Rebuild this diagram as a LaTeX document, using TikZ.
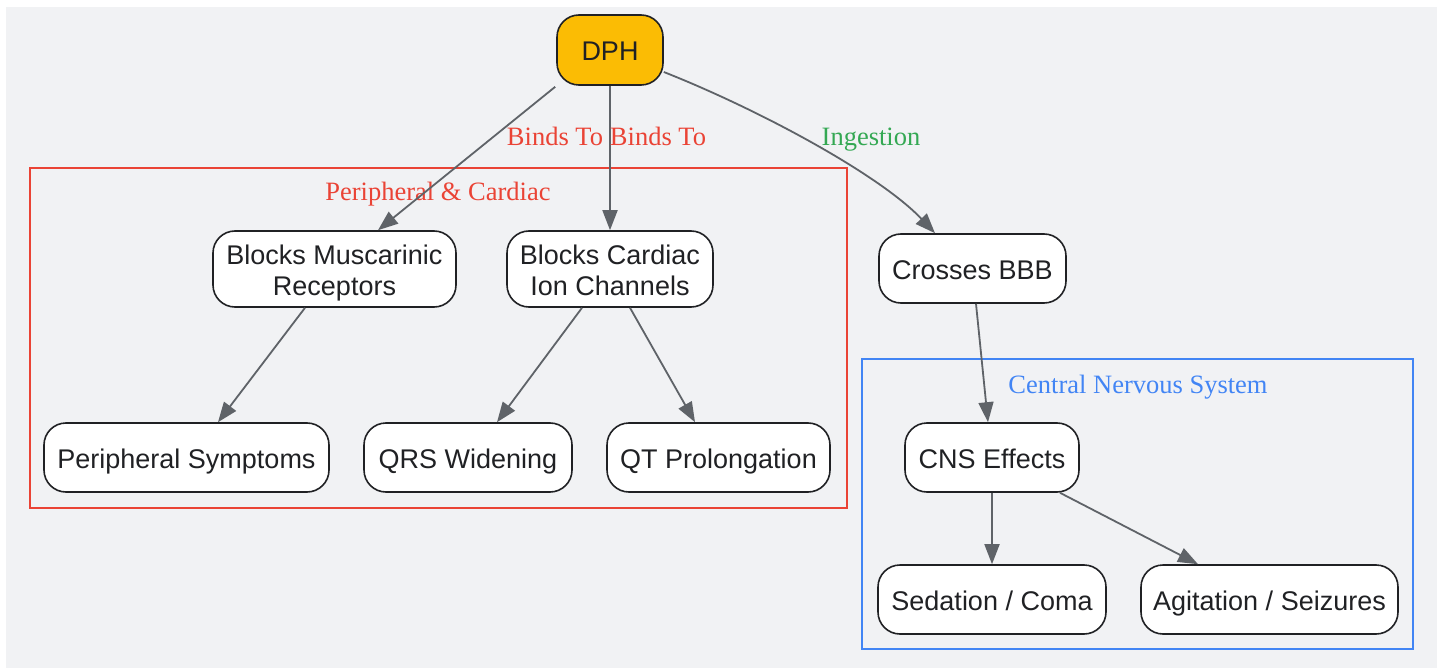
\documentclass[tikz,border=0pt]{standalone}
\usepackage{fontspec}
\setmainfont{Liberation Serif}
\newfontfamily\nodefont{Liberation Sans}
\usetikzlibrary{arrows.meta,calc}
\definecolor{bggray}{HTML}{F1F2F4}
\definecolor{edgegray}{HTML}{5F6368}
\definecolor{txtdark}{HTML}{202124}
\definecolor{gyellow}{HTML}{FBBC04}
\definecolor{gred}{HTML}{EA4335}
\definecolor{gblue}{HTML}{4285F4}
\definecolor{ggreen}{HTML}{34A853}
\newcommand{\topstrut}{\rule{0pt}{30pt}}
\newcommand{\botstrut}{\rule[-8pt]{0pt}{8pt}}
\tikzset{
  box/.style={draw=txtdark, line width=1.6pt, fill=white, rounded corners=22pt,
    align=center, inner sep=0pt, text=txtdark,
    font=\nodefont\fontsize{27}{31}\selectfont},
  conn/.style={draw=edgegray, line width=1.8pt, -{Triangle[length=20pt,width=15pt]}},
  lbl/.style={font=\fontsize{26.5}{31}\selectfont, inner sep=0pt, anchor=base},
  cluster/.style={line width=1.8pt}
}
\begin{document}
\begin{tikzpicture}[x=1pt,y=-1pt]
\useasboundingbox (0,0) rectangle (1445,668);
\fill[white] (0,0) rectangle (1445,668);
\fill[bggray] (6,7) rectangle (1437,668);
% clusters
\draw[cluster, gred] (30,168) rectangle (847,508);
\draw[cluster, gblue] (862,359) rectangle (1413,649);
\node[lbl, text=gred] (lperi) at (438,201) {Peripheral \& Cardiac};
\node[lbl, text=gblue] (lcns) at (1138,393) {Central Nervous System};
% nodes
\node[box, fill=gyellow, minimum width=106pt, minimum height=70pt] (dph) at (610,50) {\topstrut DPH\botstrut};
\node[box, minimum width=243pt, minimum height=76pt] (bm) at (334.5,269) {\topstrut Blocks Muscarinic\\Receptors\botstrut};
\node[box, minimum width=206pt, minimum height=76pt] (bc) at (610,269) {\topstrut Blocks Cardiac\\Ion Channels\botstrut};
\node[box, minimum width=187pt, minimum height=69pt] (bbb) at (972.5,268.5) {\topstrut Crosses BBB\botstrut};
\node[box, minimum width=285pt, minimum height=69pt] (ps) at (186.5,457.5) {\topstrut Peripheral Symptoms\botstrut};
\node[box, minimum width=208pt, minimum height=69pt] (qrs) at (468,457.5) {\topstrut QRS Widening\botstrut};
\node[box, minimum width=223pt, minimum height=69pt] (qt) at (718.5,457.5) {\topstrut QT Prolongation\botstrut};
\node[box, minimum width=174pt, minimum height=69pt] (cns) at (992,457.5) {\topstrut CNS Effects\botstrut};
\node[box, minimum width=228pt, minimum height=69pt] (sed) at (992,599.5) {\topstrut Sedation / Coma\botstrut};
\node[box, minimum width=257pt, minimum height=69pt] (agi) at (1269.5,599.5) {\topstrut Agitation / Seizures\botstrut};
% edges
\draw[conn] ([shift={(-1pt,-1pt)}]dph.south west) -- ([xshift=43.5pt]bm.north);
\draw[conn] (dph.south) -- (bc.north);
\draw[conn] ([yshift=-22pt]dph.east) .. controls (760,110) and (880,175) .. ([xshift=-37.5pt]bbb.north);
\draw[conn] ([xshift=-29.5pt]bm.south) -- ([xshift=31.5pt]ps.north);
\draw[conn] ([xshift=-28pt]bc.south) -- ([xshift=29pt]qrs.north);
\draw[conn] ([xshift=20pt]bc.south) -- ([xshift=-23.5pt]qt.north);
\draw[conn] ([xshift=3.5pt]bbb.south) -- ([xshift=-4pt]cns.north);
\draw[conn] (cns.south) -- (sed.north);
\draw[conn] ([xshift=68pt]cns.south) -- ([xshift=-71.5pt]agi.north);
% edge labels
\node[lbl, text=gred] (lb1) at (555,146) {Binds To};
\node[lbl, text=gred] (lb2) at (658,146) {Binds To};
\node[lbl, text=ggreen] (ling) at (871,146) {Ingestion};
\end{tikzpicture}
\end{document}
